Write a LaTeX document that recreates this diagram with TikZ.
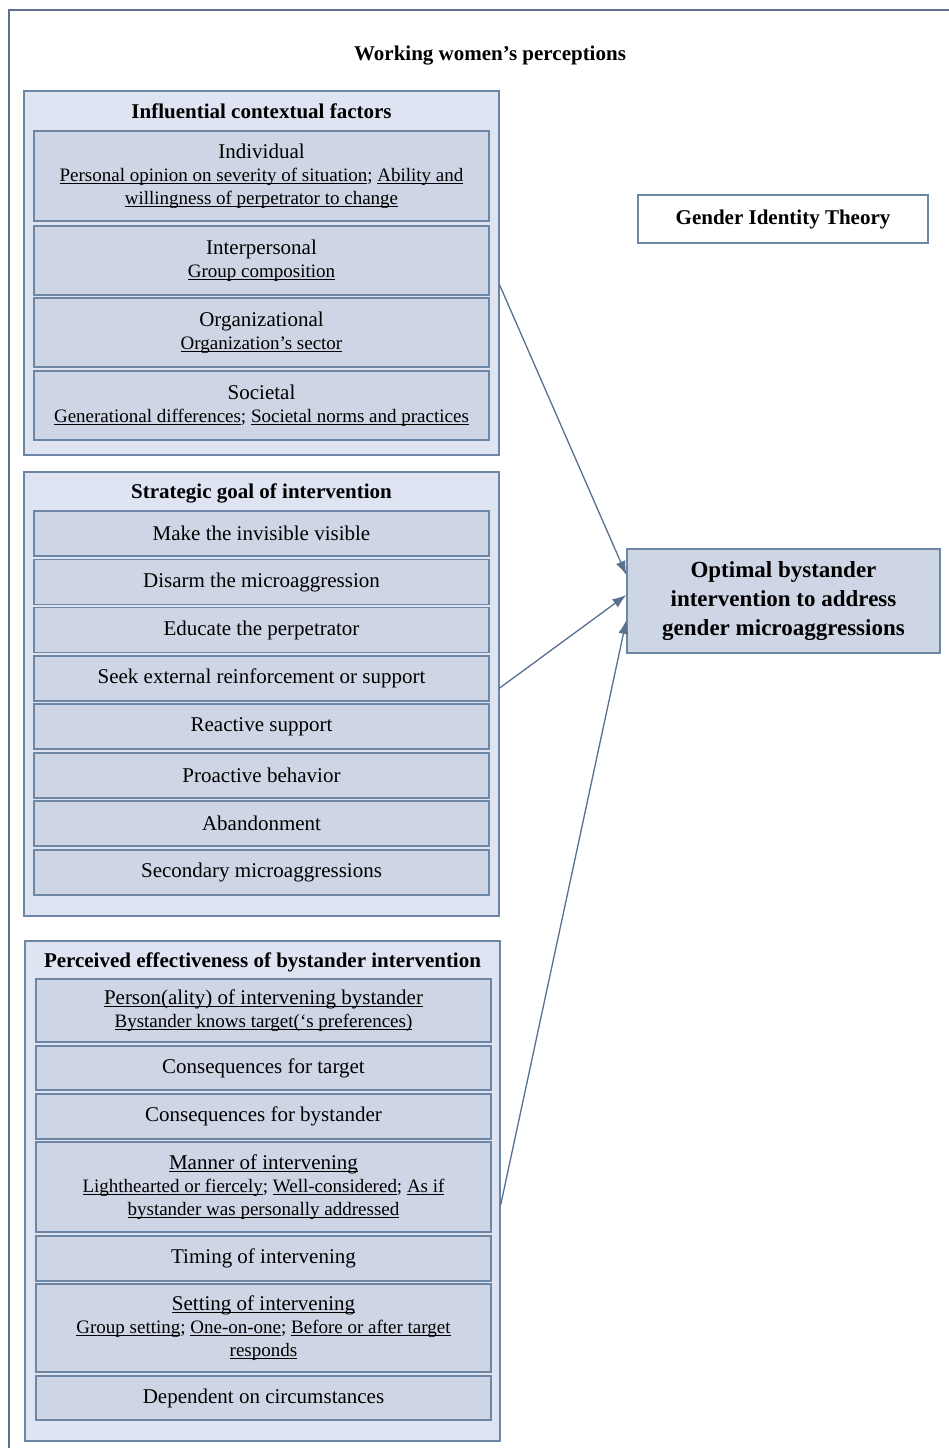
\documentclass[tikz,border=0pt]{standalone}
\usepackage{fontspec}
\setmainfont{Liberation Serif}
\usetikzlibrary{arrows.meta}
\definecolor{grpfill}{RGB}{222,228,241}
\definecolor{itemfill}{RGB}{206,214,229}
\definecolor{edgeblue}{RGB}{110,134,165}
\definecolor{framecol}{RGB}{90,112,142}
\newsavebox\undlbox
\newcommand\undl[1]{\sbox\undlbox{#1}\rlap{\rule[-3pt]{\wd\undlbox}{0.9pt}}\usebox\undlbox}
\newcommand\dtl{\fontsize{19}{23}\selectfont}

\begin{document}
\begin{tikzpicture}[x=1pt, y=-1pt,
  every node/.style={font=\fontsize{21}{23}\selectfont, align=center, inner sep=0pt},
  grpbox/.style={draw=edgeblue, line width=1.3pt, fill=grpfill, minimum width=475pt},
  itembox/.style={draw=edgeblue, line width=1.3pt, fill=itemfill, minimum width=455pt},
  head/.style={font=\fontsize{21}{23}\selectfont\bfseries},
  arr/.style={-{Latex[length=14pt,width=10pt]}, draw=framecol, fill=framecol, line width=1.3pt}]
  \useasboundingbox (0,0) rectangle (949,1448);
  \clip (0,0) rectangle (949,1448);
  \draw[framecol, line width=2.5pt] (9,10) rectangle (980,1480);

  \node[head] (title) at (490,56) {Working women’s perceptions};

  \node[grpbox, minimum height=364pt] (infl) at (261.5,273) {};
  \node[head] (inflhead) at (261.5,111) {Influential contextual factors};
  \node[itembox, minimum height=90pt] (indiv) at (261.5,176)
    {Individual\\ \dtl\undl{Personal opinion on severity of situation}; \undl{Ability and}\\ \dtl\undl{willingness of perpetrator to change}};
  \node[itembox, minimum height=69pt] (interp) at (261.5,260.5) {Interpersonal\\ \dtl\undl{Group composition}};
  \node[itembox, minimum height=69pt] (org) at (261.5,332.5) {Organizational\\ \dtl\undl{Organization’s sector}};
  \node[itembox, minimum height=69pt] (soc) at (261.5,405.5)
    {Societal\\ \dtl\undl{Generational differences}; \undl{Societal norms and practices}};

  \node[grpbox, minimum height=444pt] (strat) at (261.5,694) {};
  \node[head] (strathead) at (261.5,493) {Strategic goal of intervention};
  \foreach \y/\nm/\txt in {533.5/make/{Make the invisible visible}, 582/disarm/{Disarm the microaggression},
      630/educ/{Educate the perpetrator}, 678.5/seek/{Seek external reinforcement or support},
      726.5/react/{Reactive support}, 775.5/proact/{Proactive behavior},
      823.5/aband/{Abandonment}, 872.5/second/{Secondary microaggressions}}
    \node[itembox, minimum height=45pt] (\nm) at (261.5,\y) {\txt};

  \node[grpbox, minimum height=500pt] (perc) at (262.5,1191) {};
  \node[head] (perchead) at (262.5,962) {Perceived effectiveness of bystander intervention};
  \node[itembox, minimum height=63pt] (person) at (263.5,1010.5)
    {\undl{Person(ality) of intervening bystander}\\ \dtl\undl{Bystander knows target(‘s preferences)}};
  \node[itembox, minimum height=44pt] (constarget) at (263.5,1068) {Consequences for target};
  \node[itembox, minimum height=45pt] (consbyst) at (263.5,1116.5) {Consequences for bystander};
  \node[itembox, minimum height=90pt] (manner) at (263.5,1187)
    {\undl{Manner of intervening}\\ \dtl\undl{Lighthearted or fiercely}; \undl{Well-considered}; \undl{As if}\\ \dtl\undl{bystander was personally addressed}};
  \node[itembox, minimum height=45pt] (timing) at (263.5,1258.5) {Timing of intervening};
  \node[itembox, minimum height=88pt] (setting) at (263.5,1328)
    {\undl{Setting of intervening}\\ \dtl\undl{Group setting}; \undl{One-on-one}; \undl{Before or after target}\\ \dtl\undl{responds}};
  \node[itembox, minimum height=44pt] (depend) at (263.5,1398) {Dependent on circumstances};

  \node[draw=edgeblue, line width=1.3pt, fill=white, minimum width=290pt, minimum height=48pt, head] (theory) at (783,219) {Gender Identity Theory};
  \node[draw=edgeblue, line width=1.3pt, fill=itemfill, minimum width=313pt, minimum height=104pt,
    font=\fontsize{23}{29}\selectfont\bfseries] (optimal) at (783.5,601)
    {Optimal bystander\\ intervention to address\\ gender microaggressions};

  \draw[arr] ([yshift=-12pt]infl.east) -- ([yshift=26pt]optimal.west);
  \draw[arr] ([yshift=6pt]strat.east) -- ([yshift=6pt]optimal.west);
  \draw[arr] ([yshift=-14pt]perc.east) -- ([yshift=-19pt]optimal.west);
\end{tikzpicture}
\end{document}
